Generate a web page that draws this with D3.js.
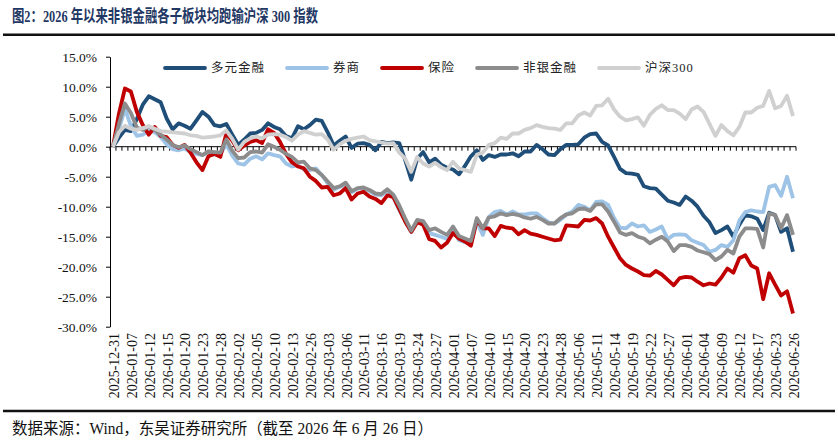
<!DOCTYPE html>
<html>
<head>
<meta charset="utf-8">
<script src="https://cdn.jsdelivr.net/npm/d3@7"></script>
<style>
  body { margin: 0; background: #fff; }
  text { font-family: "Liberation Serif", "Noto Sans CJK SC", serif; }
</style>
</head>
<body>
<div id="chart"></div>
<script>
// trading days, 2025-12-31 .. 2026-06-26
const dates = [
  "2025-12-31","2026-01-05","2026-01-06","2026-01-07","2026-01-08","2026-01-09","2026-01-12","2026-01-13","2026-01-14","2026-01-15",
  "2026-01-16","2026-01-19","2026-01-20","2026-01-21","2026-01-22","2026-01-23","2026-01-26","2026-01-27","2026-01-28","2026-01-29",
  "2026-01-30","2026-02-02","2026-02-03","2026-02-04","2026-02-05","2026-02-06","2026-02-09","2026-02-10","2026-02-11","2026-02-12",
  "2026-02-13","2026-02-24","2026-02-25","2026-02-26","2026-02-27","2026-03-02","2026-03-03","2026-03-04","2026-03-05","2026-03-06",
  "2026-03-09","2026-03-10","2026-03-11","2026-03-12","2026-03-13","2026-03-16","2026-03-17","2026-03-18","2026-03-19","2026-03-20",
  "2026-03-23","2026-03-24","2026-03-25","2026-03-26","2026-03-27","2026-03-30","2026-03-31","2026-04-01","2026-04-02","2026-04-03",
  "2026-04-07","2026-04-08","2026-04-09","2026-04-10","2026-04-13","2026-04-14","2026-04-15","2026-04-16","2026-04-17","2026-04-20",
  "2026-04-21","2026-04-22","2026-04-23","2026-04-24","2026-04-27","2026-04-28","2026-04-29","2026-04-30","2026-05-06","2026-05-07",
  "2026-05-08","2026-05-11","2026-05-12","2026-05-13","2026-05-14","2026-05-15","2026-05-18","2026-05-19","2026-05-20","2026-05-21",
  "2026-05-22","2026-05-25","2026-05-26","2026-05-27","2026-05-28","2026-05-29","2026-06-01","2026-06-02","2026-06-03","2026-06-04",
  "2026-06-05","2026-06-08","2026-06-09","2026-06-10","2026-06-11","2026-06-12","2026-06-15","2026-06-16","2026-06-17","2026-06-18",
  "2026-06-22","2026-06-23","2026-06-24","2026-06-25","2026-06-26"
];

// cumulative return, %
const duoyuan = [
  0, 1.5, 2.8, 2.6, 4.6, 7.0, 8.4, 7.9, 7.4, 4.7,
  2.9, 3.9, 3.5, 3.0, 4.4, 5.8, 5.0, 3.6, 3.4, 3.8,
  2.0, 0.3, 1.2, 2.2, 2.3, 2.8, 3.9, 3.3, 2.9, 1.8,
  1.4, 3.4, 2.9, 3.6, 4.5, 4.3, 2.4, 0.2, 1.0, 1.7,
  -0.2, 0.5, 0.6, 0.3, -0.6, 0.8, 0.6, 0.7, 0.6, -2.3,
  -5.5, -2.0, -0.9, -2.6, -2.0, -3.0, -3.5, -3.8, -4.6, -3.2,
  -1.6, -0.6, -2.2, -1.4, -1.7, -1.3, -1.3, -1.1, -1.6, -0.8,
  -0.8, 0.3, -0.4, -1.3, -1.4, -0.4, 0.3, 0.3, 0.4, 1.5,
  2.1, 2.2, 0.8, 0.2, -1.7, -3.7, -4.4, -4.5, -4.7, -6.6,
  -6.9, -7.0, -8.0, -9.0, -9.3, -9.7, -8.3, -9.0, -10.0, -11.5,
  -12.6, -14.4, -13.9, -13.3, -15.0, -13.0, -11.4, -11.6, -12.0, -13.9,
  -11.0, -11.4, -14.2, -13.6, -17.5
];
const quanshang = [
  0, 3.0, 6.3, 3.5, 1.8, 2.0, 2.7, 2.4, 1.6, 0.4,
  -0.4, -0.6, -0.3, -0.9, -1.2, -1.4, -0.8, -1.3, -1.2, 0.4,
  -1.5, -2.8, -3.0, -2.0, -1.6, -2.1, -1.1, -1.4, -1.6, -2.8,
  -3.3, -3.1, -3.8, -3.9, -3.6, -4.7, -6.1, -7.2, -6.7, -6.3,
  -7.6, -7.0, -6.9, -7.4, -8.0, -8.1, -7.4, -8.4, -10.6, -12.3,
  -14.2, -12.4, -12.6, -14.4, -14.7, -15.0, -15.4, -13.6, -15.6, -15.9,
  -16.1, -12.5, -14.7, -11.7, -10.9, -10.7, -11.3, -10.8, -11.3, -11.3,
  -11.1, -11.1, -11.9, -12.6, -12.8, -12.2, -11.3, -10.8, -9.7, -10.0,
  -10.6, -9.2, -9.1, -9.7, -11.9, -13.5, -13.6, -12.8, -13.3, -13.1,
  -14.2, -13.8, -13.3, -15.4, -14.7, -14.6, -14.7, -15.6, -16.0, -16.4,
  -17.5, -17.2, -16.4, -16.7, -15.6, -12.3, -10.9, -10.6, -10.8, -10.9,
  -6.7, -6.4, -8.2, -5.0, -8.6
];
const baoxian = [
  0, 5.5, 9.7, 9.2, 5.8, 3.6, 2.0, 3.3, 1.8, 1.6,
  0.3, -0.2, 0.3, -1.0, -2.6, -3.9, -1.6, -1.2, -1.7, 2.2,
  1.0, -0.6, 0.2, 0.8, 1.1, 0.6, 2.9, 2.3, 0.8, -1.2,
  -2.6, -3.3, -3.6, -5.0, -5.7, -6.8, -6.7, -8.1, -7.8, -6.9,
  -8.8, -7.8, -7.5, -8.3, -8.7, -9.4, -8.1, -8.4, -10.4, -12.5,
  -14.2, -12.6, -13.0, -15.4, -15.7, -16.8, -16.0, -14.4, -15.3, -15.8,
  -16.5, -12.2, -13.6, -13.6, -14.9, -13.2, -13.5, -13.6, -14.6, -13.9,
  -14.5, -14.7, -15.0, -15.3, -15.6, -15.5, -13.1, -13.2, -13.3, -12.2,
  -12.3, -11.9, -12.8, -15.0, -16.8, -18.6, -19.7, -20.3, -20.8, -21.4,
  -21.5, -20.7, -21.3, -22.2, -23.1, -21.9, -21.7, -21.8, -22.5, -23.1,
  -22.8, -23.0, -21.8, -20.3, -21.0, -18.6, -18.1, -19.8, -20.3, -25.4,
  -21.1, -23.0, -24.8, -24.1, -27.8
];
const feiyin = [
  0, 3.8, 7.2, 5.6, 3.2, 2.8, 3.4, 2.8, 2.0, 1.2,
  0.3, -0.1, 0.2, -0.4, -0.9, -1.4, -0.8, -0.9, -1.0, 1.2,
  -0.7, -1.9, -1.8, -0.9, -0.8, -1.0, 0.4, 0.0, -0.5, -1.2,
  -1.7, -2.6, -2.5, -3.6, -3.9, -4.7, -5.8, -6.9, -6.6, -6.0,
  -7.4, -6.9, -6.8, -7.2, -7.8, -7.9, -7.1, -8.0, -9.8, -12.0,
  -14.0, -12.2, -12.4, -13.9, -13.6, -14.2, -14.7, -13.3, -14.9, -15.3,
  -15.7, -11.9, -13.6, -11.8, -11.6, -11.1, -11.4, -11.2, -11.4, -11.8,
  -12.0, -11.7, -12.2, -12.8, -12.8, -11.9, -11.3, -11.1, -10.4, -10.3,
  -10.7, -9.6, -9.6, -10.8, -12.5, -14.3, -14.7, -14.4, -15.0, -15.3,
  -16.1, -15.5, -15.0, -15.8, -17.4, -16.4, -16.4, -16.7, -17.3, -17.6,
  -17.9, -18.9, -18.3, -17.2, -17.8, -15.0, -13.6, -13.6, -13.7, -16.8,
  -11.1, -11.4, -13.6, -11.4, -14.7
];
const hs300 = [
  0, 2.4, 3.5, 3.0, 2.8, 3.1, 3.4, 3.0, 2.6, 2.5,
  2.4, 2.3, 2.2, 1.9, 1.8, 1.5, 1.6, 1.7, 1.9, 2.7,
  1.3, -0.5, 0.8, 1.4, 1.7, 1.4, 2.0, 2.1, 2.0, 1.6,
  1.0, 2.0, 2.6, 2.3, 2.0, 2.1, 1.2, -0.5, 0.4, 1.0,
  1.3, 1.5, 1.7, 1.1, 0.9, 0.7, 0.5, 0.6, -1.0, -2.0,
  -4.2, -1.7, -2.8, -3.3, -2.7, -3.4, -3.9, -2.5, -3.6, -3.9,
  -4.2, -1.3, -1.0, 0.3, 0.6, 1.5, 1.3, 2.2, 2.2, 2.8,
  3.1, 3.6, 3.3, 3.1, 3.0, 2.8, 3.9, 3.9, 5.2, 5.7,
  5.2, 6.8, 6.9, 8.0, 6.2, 5.0, 4.4, 4.6, 4.9, 3.5,
  5.3, 6.3, 6.9, 6.1, 6.1, 5.5, 4.6, 6.2, 6.7, 5.8,
  3.8, 1.8, 3.6, 2.6, 1.9, 3.3, 5.7, 5.7, 6.5, 6.8,
  9.3, 6.4, 6.8, 8.5, 5.1
];

const seriesNames = ["多元金融", "券商", "保险", "非银金融", "沪深300"];
const seriesValues = [duoyuan, quanshang, baoxian, feiyin, hs300];
const seriesColors = ["#1F4E79", "#9DC3E6", "#C00000", "#8C8C8C", "#D0D0D0"];
const yTicks = [15, 10, 5, 0, -5, -10, -15, -20, -25, -30];
const labelDates = dates.filter((d, i) => i % 3 === 0);

const W = 838, H = 445;
const plot = { left: 110, right: 796, top: 56.7, bottom: 326.7 };

const svg = d3.select("#chart").append("svg")
    .attr("width", W)
    .attr("height", H);

svg.append("rect").attr("width", W).attr("height", H).attr("fill", "#fff");

// title + rules
svg.append("text")
    .attr("x", 12).attr("y", 21.5)
    .attr("font-size", 16.5).attr("font-weight", "bold")
    .attr("fill", "#1F3864")
    .attr("textLength", 306).attr("lengthAdjust", "spacingAndGlyphs")
    .text("图2：2026 年以来非银金融各子板块均跑输沪深 300 指数");

svg.append("line").attr("x1", 3).attr("x2", 835).attr("y1", 34.7).attr("y2", 34.7)
    .attr("stroke", "#111").attr("stroke-width", 2.5);
svg.append("line").attr("x1", 3).attr("x2", 835).attr("y1", 411).attr("y2", 411)
    .attr("stroke", "#111").attr("stroke-width", 2.5);

svg.append("text")
    .attr("x", 12).attr("y", 434)
    .attr("font-size", 16).attr("fill", "#111")
    .attr("textLength", 421).attr("lengthAdjust", "spacingAndGlyphs")
    .text("数据来源：Wind，东吴证券研究所（截至 2026 年 6 月 26 日）");

// scales
const x = d3.scaleBand().domain(dates).range([plot.left, plot.right]).padding(0);
const y = d3.scaleLinear().domain([-30, 15]).range([plot.bottom, plot.top]);
const cx = d => x(d) + x.bandwidth() / 2;

// y axis
const yAxis = svg.append("g")
    .attr("transform", `translate(${plot.left},0)`)
    .call(d3.axisLeft(y).tickValues(yTicks).tickFormat(d => d.toFixed(1) + "%")
        .tickSize(4).tickPadding(9).tickSizeOuter(0));
yAxis.select(".domain").attr("stroke", "#000");
yAxis.selectAll(".tick line").attr("stroke", "#000");
yAxis.selectAll("text")
    .attr("font-family", "Liberation Serif, serif")
    .attr("font-size", 13.5).attr("fill", "#111");

// zero line with ticks at category boundaries
const zero = svg.append("g").attr("transform", `translate(0,${y(0)})`);
zero.append("line").attr("x1", plot.left).attr("x2", plot.right)
    .attr("stroke", "#000").attr("stroke-width", 1);
zero.selectAll(".ztick")
    .data(dates.concat(["end"]))
    .enter().append("line")
    .attr("x1", d => d === "end" ? plot.right : x(d))
    .attr("x2", d => d === "end" ? plot.right : x(d))
    .attr("y1", 0).attr("y2", 4)
    .attr("stroke", "#000").attr("stroke-width", 1);

// category labels at bottom
svg.append("g").selectAll("text")
    .data(labelDates)
    .enter().append("text")
    .attr("transform", d => `translate(${cx(d) + 1},333) rotate(-90)`)
    .attr("text-anchor", "end")
    .attr("dy", "0.35em")
    .attr("font-size", 14).attr("fill", "#111")
    .text(d => d);

// lines
const line = d3.line()
    .x((v, i) => cx(dates[i]))
    .y(v => y(v));

svg.append("g").selectAll("path")
    .data(seriesValues)
    .enter().append("path")
    .attr("d", line)
    .attr("fill", "none")
    .attr("stroke", (d, i) => seriesColors[i])
    .attr("stroke-width", 3.8)
    .attr("stroke-linejoin", "round");

// legend
const legend = svg.append("g").attr("transform", "translate(0,68)");
let lx = 165;
seriesNames.forEach((name, i) => {
    legend.append("line")
        .attr("x1", lx).attr("x2", lx + 40)
        .attr("stroke", seriesColors[i]).attr("stroke-width", 3.8)
        .attr("stroke-linecap", "round");
    const t = legend.append("text")
        .attr("x", lx + 46).attr("dy", "0.35em")
        .attr("font-size", 12.5).attr("letter-spacing", "1px")
        .attr("fill", "#222")
        .text(name);
    lx += 46 + t.node().getComputedTextLength() + 22;
});
</script>
</body>
</html>
